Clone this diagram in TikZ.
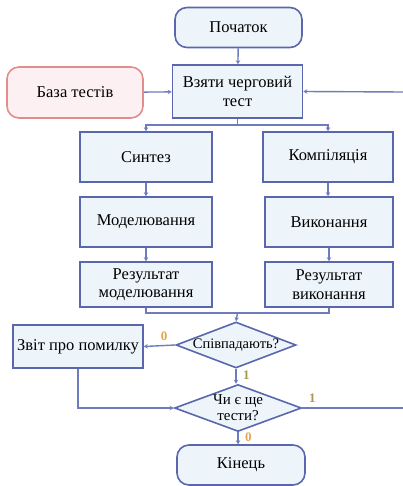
\documentclass[tikz,border=0pt]{standalone}
\usepackage{fontspec}
\setmainfont{Liberation Serif}
\usetikzlibrary{shapes.geometric,arrows.meta,positioning}
\definecolor{edgeblue}{HTML}{5A66AE}
\definecolor{fillblue}{HTML}{EEF5FA}
\definecolor{lineblue}{HTML}{6E7CBE}
\definecolor{edgered}{HTML}{E38C8C}
\definecolor{fillred}{HTML}{FDF0F3}
\definecolor{zerocol}{HTML}{E2A54A}
\definecolor{onecol}{HTML}{A89A4A}

\begin{document}
\begin{tikzpicture}[x=1pt,y=-1pt,
    box/.style={draw=edgeblue,line width=1.6pt,fill=fillblue,minimum width=130pt,minimum height=50pt,
        align=center,inner sep=2pt,font=\fontsize{16.5}{18.5}\selectfont},
    term/.style={box,rounded corners=12pt,minimum height=40pt},
    decide/.style={box,diamond,aspect=2.6,inner sep=-12pt},
    line/.style={draw=lineblue,line width=1.4pt},
    arr/.style={line,-{Stealth[length=4pt,width=4.5pt]}},
    zero/.style={text=zerocol,font=\bfseries\fontsize{13}{13}\selectfont},
    one/.style={text=onecol,font=\bfseries\fontsize{13}{13}\selectfont}]
    \useasboundingbox (0,0) rectangle (403,486);

    \node[term,minimum width=127pt] (start) at (238.5,27.5) {Початок};
    \node[box,minimum height=53pt] (take) at (237.5,91.5) {Взяти черговий\\тест};
    \node[term,draw=edgered,fill=fillred,minimum width=136pt,minimum height=51pt] (base) at (75,92.5) {База тестів};

    \node[box,minimum width=132pt] (synth) at (146,157) {Синтез};
    \node[box] (comp) at (328,157) {Компіляція};
    \node[box,minimum width=132pt] (model) at (146,222) {Моделювання};
    \node[box,minimum width=128pt] (exec) at (329,222) {Виконання};
    \node[box,minimum width=132pt,minimum height=45pt] (resmodel) at (146,284.5) {Результат\\моделювання};
    \node[box,minimum width=128pt,minimum height=45pt] (resexec) at (329,284.5) {Результат\\виконання};

    \node[decide,minimum width=120pt,minimum height=46pt,font=\fontsize{14.5}{16}\selectfont] (match) at (236,345) {Співпадають?};
    \node[box,minimum height=43pt] (report) at (78,346.5) {Звіт про помилку};
    \node[decide,minimum width=127pt,minimum height=47pt,font=\fontsize{15}{16}\selectfont] (more) at (238,408) {Чи є ще\\тести?};
    \node[term,minimum width=128pt] (end) at (241,465) {Кінець};

    % free ends of the loop at the right edge
    \coordinate (loopin) at (403,92);
    \coordinate (loopout) at (403,408);
    \coordinate (split) at (237.5,125);
    \coordinate (merge) at (237.5,313);

    \draw[arr] (start) -- (take);
    \draw[arr] (base) -- (take);
    \draw[arr] (loopin) -- (take.east);
    \draw[line] (take.south) -- (split);
    \draw[arr] (split) -| (synth.north);
    \draw[arr] (split) -| (comp.north);
    \draw[arr] (synth) -- (model);
    \draw[arr] (comp) -- (comp |- exec.north);
    \draw[arr] (model) -- (resmodel);
    \draw[arr] (exec) -- (resexec);
    \draw[line] (resmodel.south) |- (merge);
    \draw[line] (resexec.south) |- (merge);
    \draw[arr] (merge) -- (match.north);
    \draw[arr] (match.west) -- node[zero,above=1pt,pos=0.35]{0} (report.east);
    \draw[arr] (match.south) -- node[one,right=3pt,pos=0.4]{1} (match.south |- more.north);
    \draw[arr] (report.south) |- (more.west);
    \draw[line] (more.east) -- node[one,above=1pt,pos=0.1]{1} (loopout);
    \draw[arr] (more.south) -- node[zero,right=3pt,pos=0.45]{0} (more.south |- end.north);
\end{tikzpicture}
\end{document}
